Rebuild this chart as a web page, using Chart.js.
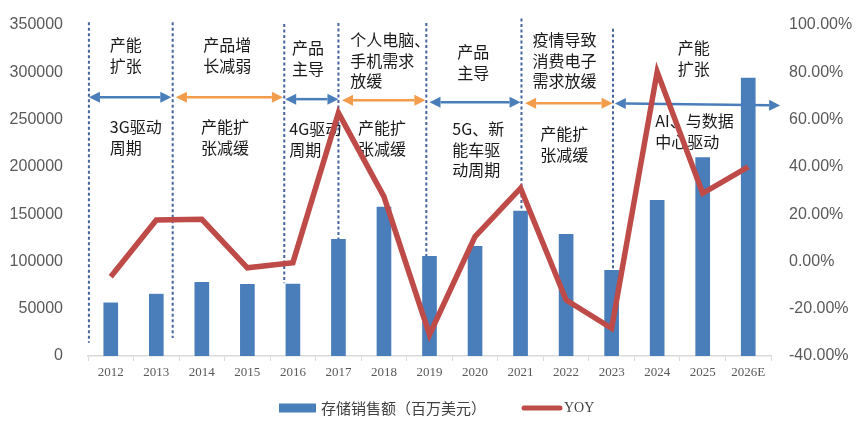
<!DOCTYPE html>
<html><head><meta charset="utf-8">
<script src="https://cdn.jsdelivr.net/npm/chart.js@4.4.1/dist/chart.umd.min.js"></script>
<style>html,body{margin:0;padding:0;background:#fff}#wrap{width:861px;height:426px}</style>
</head><body><div id="wrap"><canvas id="c" width="861" height="426"></canvas></div>
<script>
// ---- data ----
const years = ['2012','2013','2014','2015','2016','2017','2018','2019','2020','2021','2022','2023','2024','2025','2026E'];
const salesValues = [56200, 65400, 78000, 75900, 76000, 123300, 157400, 105400, 116000, 153200, 128600, 90700, 164500, 209800, 293800];
const yoyValues = [-6.5, 17.5, 17.8, -2.7, -0.5, 62.8, 27.4, -31.0, 10.5, 31.0, -16.3, -28.3, 80.2, 28.8, 40.0];
const leftTicks = [0, 50000, 100000, 150000, 200000, 250000, 300000, 350000];
const rightTicks = [-40, -20, 0, 20, 40, 60, 80, 100];
const salesLabel = '存储销售额（百万美元）';
const yoyLabel = 'YOY';

// ---- annotation layout (category index / left-axis value units) ----
const dividers = [
  {x:-0.48, top:353000, bottom:14000},
  {x:1.36, top:353000, bottom:19000},
  {x:3.81, top:351000, bottom:77000},
  {x:5.0, top:352000, bottom:123300},
  {x:6.93, top:352000, bottom:105400},
  {x:9.02, top:357000, bottom:153200},
  {x:11.03, top:346000, bottom:90700}
];
const arrows = [
  {x1:-0.48, x2:1.33, y1:273700, y2:273700, c:'blue'},
  {x1:1.43, x2:3.78, y1:273700, y2:273700, c:'orange'},
  {x1:3.83, x2:5.0, y1:271600, y2:271600, c:'blue'},
  {x1:5.08, x2:6.91, y1:270500, y2:270500, c:'orange'},
  {x1:7.0, x2:9.0, y1:268400, y2:268400, c:'blue'},
  {x1:9.1, x2:11.02, y1:267300, y2:267300, c:'orange'},
  {x1:11.07, x2:14.7, y1:267000, y2:265000, c:'blue'}
];
const notes = [
  {x:-0.02, y:328600, lines:['产能','扩张']},
  {x:-0.02, y:242000, lines:['3G驱动','周期']},
  {x:2.03, y:328600, lines:['产品增','长减弱']},
  {x:1.98, y:242000, lines:['产能扩','张减缓']},
  {x:3.98, y:325400, lines:['产品','主导']},
  {x:3.92, y:239900, lines:['4G驱动','周期']},
  {x:5.26, y:333800, lines:['个人电脑、','手机需求','放缓']},
  {x:5.43, y:240900, lines:['产能扩','张减缓']},
  {x:7.61, y:321200, lines:['产品','主导']},
  {x:7.5, y:239900, lines:['5G、新','能车驱','动周期']},
  {x:9.26, y:333800, lines:['疫情导致','消费电子','需求放缓']},
  {x:9.43, y:234600, lines:['产能扩','张减缓']},
  {x:12.45, y:325400, lines:['产能','扩张']},
  {x:11.96, y:248300, lines:['AI、与数据','中心驱动']}
];
const COLORS = {bar:'#4a7ebb', line:'#be4b48', blue:'#4a7ebb', orange:'#f39c4b', dash:'#46659f', text:'#1a1a1a', tick:'#595959'};

const annotPlugin = {
  id:'annot',
  beforeDatasetsDraw(chart){
    const ctx = chart.ctx, xs = chart.scales.x, ys = chart.scales.y;
    const step = xs.getPixelForValue(1) - xs.getPixelForValue(0);
    const px = v => xs.getPixelForValue(0) + v*step;
    ctx.save();
    ctx.strokeStyle = COLORS.dash; ctx.lineWidth = 2; ctx.setLineDash([3,2.5]);
    dividers.forEach(d=>{ctx.beginPath();ctx.moveTo(px(d.x), ys.getPixelForValue(d.top));ctx.lineTo(px(d.x), ys.getPixelForValue(d.bottom));ctx.stroke();});
    ctx.setLineDash([]);
    arrows.forEach(a=>{
      const col = a.c==='blue'?COLORS.blue:COLORS.orange;
      const x1=px(a.x1), x2=px(a.x2), y1=ys.getPixelForValue(a.y1), y2=ys.getPixelForValue(a.y2);
      const ang = Math.atan2(y2-y1, x2-x1), L=11, W=5.5;
      ctx.strokeStyle=col; ctx.fillStyle=col; ctx.lineWidth=2.5;
      ctx.beginPath();ctx.moveTo(x1+Math.cos(ang)*L, y1+Math.sin(ang)*L);ctx.lineTo(x2-Math.cos(ang)*L, y2-Math.sin(ang)*L);ctx.stroke();
      const head=(x,y,dir)=>{const c=Math.cos(ang)*dir, s=Math.sin(ang)*dir;ctx.beginPath();ctx.moveTo(x,y);ctx.lineTo(x-c*L - s*W, y-s*L + c*W);ctx.lineTo(x-c*L + s*W, y-s*L - c*W);ctx.closePath();ctx.fill();};
      head(x2,y2,1); head(x1,y1,-1);
    });
    ctx.fillStyle = COLORS.text; ctx.font = '16px "Noto Sans CJK SC", sans-serif'; ctx.textBaseline='middle'; ctx.textAlign='left';
    notes.forEach(n=>{const y0=ys.getPixelForValue(n.y); n.lines.forEach((t,i)=>ctx.fillText(t, px(n.x), y0 + i*20.5));});
    ctx.restore();
  }
};
const legendPlugin = {
  id:'customLegend',
  afterDraw(chart){
    const ctx = chart.ctx; ctx.save();
    ctx.fillStyle = COLORS.bar; ctx.fillRect(279, 403.5, 37, 9);
    ctx.fillStyle = '#404040'; ctx.textBaseline='middle'; ctx.textAlign='left';
    ctx.font = '15px "Noto Sans CJK SC", sans-serif'; ctx.fillText(salesLabel, 321, 408);
    ctx.strokeStyle = COLORS.line; ctx.lineWidth = 5; ctx.lineCap='round';
    ctx.beginPath(); ctx.moveTo(524, 408); ctx.lineTo(560, 408); ctx.stroke();
    ctx.font = '14px "Liberation Serif", serif'; ctx.fillText(yoyLabel, 564, 408);
    ctx.restore();
  }
};

new Chart(document.getElementById('c'), {
  data:{
    labels: years,
    datasets:[
      {type:'line', label:yoyLabel, data:yoyValues, yAxisID:'y1', borderColor:COLORS.line, backgroundColor:COLORS.line, borderWidth:5.5, pointRadius:0, tension:0, order:0},
      {type:'bar', label:salesLabel, data:salesValues, yAxisID:'y', backgroundColor:COLORS.bar, barThickness:14, order:1}
    ]
  },
  options:{
    responsive:false, animation:false, devicePixelRatio:1,
    layout:{padding:{top:25, bottom:0, left:0, right:0}},
    plugins:{legend:{display:false}, tooltip:{enabled:false}},
    scales:{
      x:{
        grid:{display:true, drawOnChartArea:false, tickLength:5, color:'#d9d9d9', offset:true},
        border:{display:true, color:'#d9d9d9', width:1.5},
        ticks:{color:COLORS.tick, font:{family:'"Liberation Serif", serif', size:13}, padding:4, maxRotation:0, autoSkip:false},
        afterFit(s){s.height = 70;}
      },
      y:{
        position:'left', min:0, max:350000,
        grid:{display:false, drawTicks:false}, border:{display:false},
        afterBuildTicks(s){s.ticks = leftTicks.map(v=>({value:v}));},
        ticks:{color:COLORS.tick, font:{family:'"Liberation Sans", Arial, sans-serif', size:16}, padding:25, callback:v=>String(v)},
        afterFit(s){s.width = 88; s.paddingTop = 10; s.paddingBottom = 10;}
      },
      y1:{
        position:'right', min:-40, max:100,
        grid:{display:false, drawTicks:false}, border:{display:false},
        afterBuildTicks(s){s.ticks = rightTicks.map(v=>({value:v}));},
        ticks:{color:COLORS.tick, font:{family:'"Liberation Sans", Arial, sans-serif', size:16}, padding:18, callback:v=>v.toFixed(2)+'%'},
        afterFit(s){s.width = 90; s.paddingTop = 10; s.paddingBottom = 10;}
      }
    }
  },
  plugins:[annotPlugin, legendPlugin]
});
</script>
</body></html>
